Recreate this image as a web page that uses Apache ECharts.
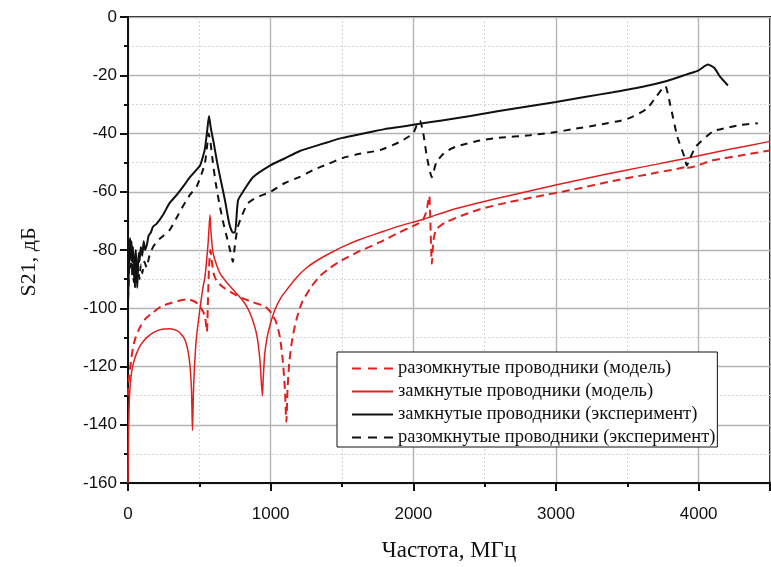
<!DOCTYPE html>
<html>
<head>
<meta charset="utf-8">
<script src="https://cdn.jsdelivr.net/npm/echarts@6/dist/echarts.min.js"></script>
<style>html,body{margin:0;padding:0;background:#fff}#c{width:771px;height:567px}</style>
</head>
<body>
<div id="c"></div>
<script>
// Series names (legend order)
const seriesNames = [
  'разомкнутые проводники (модель)',
  'замкнутые проводники (модель)',
  'замкнутые проводники (эксперимент)',
  'разомкнутые проводники (эксперимент)'
];
const xTitle = 'Частота, МГц';
const yTitle = 'S21, дБ';

// [frequency MHz, S21 dB]
const openModel = [[0,-130],[5,-125],[14,-121],[30,-115],[50,-110.5],[84,-106.5],[125,-103.5],[175,-101.5],[230,-99.5],[294,-98.3],[350,-97.5],[413,-97],[460,-97.5],[490,-98.5],[520,-100.5],[540,-103],[553,-108],[560,-98],[568,-86],[578,-80],[588,-84],[600,-88],[620,-90.5],[660,-92.5],[720,-94.5],[800,-96.5],[880,-98],[940,-99],[975,-100],[1010,-102],[1040,-105],[1065,-110],[1085,-118],[1100,-128],[1110,-139],[1118,-128],[1130,-119],[1150,-111],[1180,-104],[1220,-98],[1280,-93],[1345,-89],[1420,-86],[1500,-83.5],[1620,-80.5],[1766,-77.3],[1900,-74],[1997,-71.8],[2060,-70.2],[2090,-67],[2105,-63],[2112,-61.4],[2118,-68],[2125,-80],[2130,-84.7],[2140,-77],[2160,-73],[2200,-71.3],[2235,-70.3],[2350,-68],[2467,-66],[2650,-63.8],[2850,-61.8],[3118,-59.3],[3400,-56.3],[3700,-53.5],[3900,-51.6],[3912,-51],[3920,-51.8],[4100,-49.2],[4300,-47.5],[4500,-45.8]];

const closedModel = [[0,-160],[3,-145],[7,-135],[14,-127.5],[25,-122],[40,-118.5],[60,-115.5],[90,-112.5],[133,-110],[180,-108.3],[230,-107.3],[294,-107],[340,-107.6],[375,-109],[400,-111],[420,-114.5],[435,-120],[445,-128],[452,-142],[458,-130],[466,-120],[480,-110],[505,-100],[525,-93],[540,-89],[561,-78],[575,-68],[582,-74],[596,-81],[620,-85],[645,-88],[690,-91],[736,-93.6],[790,-96.5],[834,-99.5],[870,-103.5],[904,-109.5],[925,-118],[942,-130],[948,-124],[958,-116],[975,-110],[1000,-105],[1030,-100.5],[1070,-96.5],[1114,-93.6],[1180,-89.5],[1254,-86],[1345,-83],[1420,-81],[1500,-79],[1620,-76.5],[1766,-74],[1900,-71.8],[2067,-69.5],[2250,-66.5],[2467,-63.7],[2700,-61],[3006,-57.6],[3250,-55],[3500,-52.5],[3700,-50.6],[3917,-48.5],[4200,-45.6],[4500,-42.7]];

const closedExp = [[0,-98],[5,-88],[10,-79],[15,-76],[20,-81],[25,-77],[30,-84],[35,-79],[40,-87],[45,-90],[50,-83],[55,-80],[60,-88],[65,-93],[70,-86],[75,-81],[80,-84],[90,-79],[100,-82],[110,-77],[120,-80],[133,-78],[145,-75],[160,-74],[175,-72],[200,-71],[245,-68],[290,-64],[343,-61],[390,-58],[434,-55],[470,-53],[505,-51],[525,-48],[540,-45],[555,-39],[568,-34],[580,-38],[600,-43],[625,-50],[650,-56],[680,-63],[710,-71],[735,-74],[750,-74],[771,-63],[806,-60],[876,-55],[995,-51],[1100,-48.5],[1205,-46],[1300,-44.5],[1400,-43],[1500,-41.5],[1600,-40.5],[1700,-39.5],[1800,-38.5],[1900,-37.8],[2000,-37],[2200,-35.5],[2400,-34],[2600,-32.3],[2800,-30.7],[3000,-29.2],[3200,-27.5],[3400,-25.8],[3600,-24],[3777,-22],[3917,-19.7],[4000,-18.3],[4065,-16.3],[4110,-17.5],[4150,-20.5],[4205,-23.5]];

const openExp = [[0,-97],[5,-90],[10,-84],[15,-80],[20,-86],[25,-82],[30,-89],[35,-84],[40,-91],[45,-87],[50,-93],[55,-88],[60,-91],[70,-86],[80,-90],[90,-85],[100,-88],[115,-84],[130,-86],[150,-82],[175,-79],[203,-77],[250,-75],[294,-73],[340,-69],[385,-65],[435,-61],[483,-58],[515,-54],[540,-50],[555,-44],[565,-40],[578,-43],[595,-50],[615,-57],[640,-64],[665,-70],[690,-75],[715,-80],[735,-84],[750,-78],[770,-72],[800,-68],[840,-64],[900,-62],[1000,-60],[1100,-57],[1200,-55],[1300,-52.5],[1400,-50.5],[1500,-48.5],[1600,-47.2],[1766,-45.7],[1900,-43],[1997,-40],[2030,-36.5],[2046,-35.6],[2070,-40],[2095,-48],[2130,-55],[2160,-50],[2200,-47.5],[2235,-46],[2300,-44.5],[2467,-42.4],[2600,-41.5],[2817,-40.6],[3000,-39.5],[3118,-38.5],[3300,-37],[3500,-35],[3637,-31.5],[3700,-27.5],[3765,-23.7],[3800,-30],[3850,-41],[3900,-48],[3917,-51],[3940,-48.5],[3980,-44.5],[4100,-39.3],[4200,-38],[4300,-37],[4415,-36.5]];

const xTicks = {min: 0, max: 4500, interval: 1000};
const yTicks = {min: -160, max: 0, interval: 20};

const red = '#e0201e';
const black = '#111';
const chart = echarts.init(document.getElementById('c'), null, {renderer: 'canvas'});
const serif = '"Liberation Serif", "DejaVu Serif", serif';
const sans = '"Liberation Sans", Arial, sans-serif';

const solidIcon = 'path://M0,0H41V2H0Z';
const dashIcon = 'path://M0,0H9V2H0Z M16,0H25V2H16Z M32,0H41V2H32Z';

function axisCommon() {
  return {
    axisLine: {show: true, onZero: false, lineStyle: {color: black, width: 2}},
    axisTick: {show: true, inside: false, length: 8, lineStyle: {color: black, width: 2}},
    minorTick: {show: true, splitNumber: 2, length: 4, lineStyle: {color: black, width: 2}},
    splitLine: {show: true, lineStyle: {color: '#b4b4b4', width: 1.4}},
    minorSplitLine: {show: true, lineStyle: {color: '#d6d6d6', width: 1, type: [2, 2]}}
  };
}

const option = {
  animation: false,
  backgroundColor: '#fff',
  grid: {left: 128, right: 1, top: 17, bottom: 78, show: true, borderColor: black, borderWidth: 2, backgroundColor: 'transparent'},
  xAxis: Object.assign(axisCommon(), {
    type: 'value', min: xTicks.min, max: xTicks.max, interval: xTicks.interval,
    axisLabel: {color: black, fontFamily: sans, fontSize: 17, margin: 23, showMaxLabel: false,
      formatter: v => (v % 1000 === 0 ? String(v) : '')},
    name: xTitle, nameLocation: 'middle', nameGap: 56,
    nameTextStyle: {fontFamily: serif, fontSize: 23, color: black}
  }),
  yAxis: Object.assign(axisCommon(), {
    type: 'value', min: yTicks.min, max: yTicks.max, interval: yTicks.interval,
    axisLabel: {color: black, fontFamily: sans, fontSize: 17, margin: 11, formatter: v => String(v)},
    name: yTitle, nameLocation: 'middle', nameGap: 88,
    nameTextStyle: {fontFamily: serif, fontSize: 22, color: black, padding: [0, 24, 0, 0]}
  }),
  legend: {
    data: [
      {name: seriesNames[0], icon: dashIcon},
      {name: seriesNames[1], icon: solidIcon},
      {name: seriesNames[2], icon: solidIcon},
      {name: seriesNames[3], icon: dashIcon}
    ],
    orient: 'vertical', left: 337, top: 352,
    selectedMode: false,
    backgroundColor: '#fff',
    borderColor: black, borderWidth: 1, borderRadius: 0,
    padding: [7, 2, 0, 15],
    itemWidth: 41, itemHeight: 2, itemGap: 4,
    textStyle: {fontFamily: serif, fontSize: 18.5, lineHeight: 18, color: black}
  },
  series: [
    {name: seriesNames[0], type: 'line', data: openModel, symbol: 'none', showSymbol: false, smooth: 0.25, lineStyle: {color: red, width: 2, type: [8, 5]}, itemStyle: {color: red}, z: 2},
    {name: seriesNames[1], type: 'line', data: closedModel, symbol: 'none', showSymbol: false, smooth: 0.25, lineStyle: {color: red, width: 1.5}, itemStyle: {color: red}, z: 3},
    {name: seriesNames[2], type: 'line', data: closedExp, symbol: 'none', showSymbol: false, smooth: 0.2, lineStyle: {color: black, width: 2}, itemStyle: {color: black}, z: 4},
    {name: seriesNames[3], type: 'line', data: openExp, symbol: 'none', showSymbol: false, smooth: 0.2, lineStyle: {color: black, width: 2, type: [7, 6]}, itemStyle: {color: black}, z: 3}
  ]
};
chart.setOption(option);
</script>
</body>
</html>
